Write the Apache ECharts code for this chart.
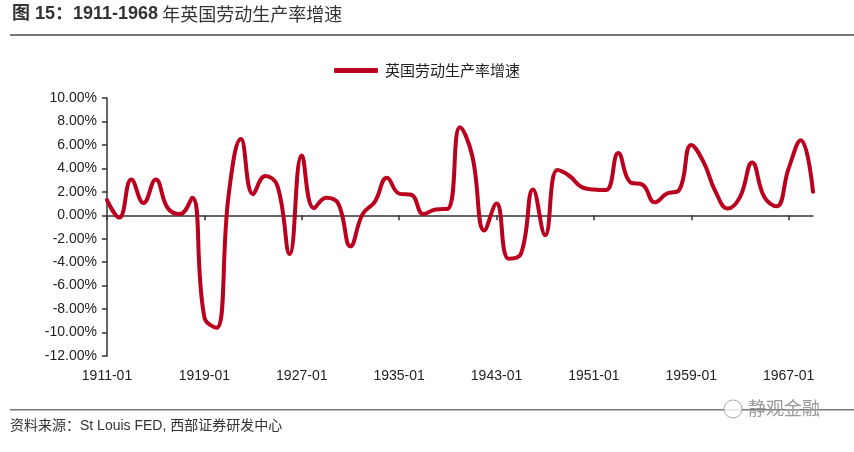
<!DOCTYPE html>
<html>
<head>
<meta charset="utf-8">
<script src="https://cdn.jsdelivr.net/npm/echarts@6/dist/echarts.min.js"></script>
<style>html,body{margin:0;padding:0;background:#fff;}#c{width:854px;height:452px;}</style>
</head>
<body>
<div id="c"></div>
<script>
// Data (annual labour productivity growth, %)
var years = [1911,1912,1913,1914,1915,1916,1917,1918,1919,1920,
             1921,1922,1923,1924,1925,1926,1927,1928,1929,1930,
             1931,1932,1933,1934,1935,1936,1937,1938,1939,1940,
             1941,1942,1943,1944,1945,1946,1947,1948,1949,1950,
             1951,1952,1953,1954,1955,1956,1957,1958,1959,1960,
             1961,1962,1963,1964,1965,1966,1967,1968,1969];
var growth = [1.3,-0.2,3.05,1.05,3.05,0.6,0.1,1.5,-8.7,-9.6,
              1.8,6.5,1.8,3.35,2.5,-3.3,5.1,0.6,1.5,1.0,
              -2.65,0.1,1.15,3.2,1.85,1.75,0.1,0.5,0.55,7.5,
              5.1,-1.3,1.0,-3.7,-3.3,2.2,-1.7,3.85,3.35,2.4,
              2.2,2.15,5.3,2.8,2.6,1.1,1.85,2.15,6.0,4.55,
              2.0,0.57,1.55,4.5,1.55,0.77,4.0,6.4,2.0];
var categories = years.map(function(y){ return y + '-01'; });
var seriesName = '英国劳动生产率增速';
var titleMain = '图 15：1911-1968';
var titleRest = ' 年英国劳动生产率增速';
var sourceText = '资料来源：St Louis FED, 西部证券研发中心';
var watermark = '静观金融';
var yMin = -12, yMax = 10, yStep = 2;

var chart = echarts.init(document.getElementById('c'));
var red = '#BA001E';
var axisColor = '#333';
var labelFont = '"Liberation Sans", Arial, sans-serif';
var cjk = '"Liberation Sans", "Noto Sans CJK SC", sans-serif';

chart.setOption({
  backgroundColor: '#fff',
  animation: false,
  legend: {
    data: [{ name: seriesName, icon: 'roundRect' }],
    left: 329, top: 58,
    itemWidth: 44, itemHeight: 5, itemGap: 10,
    textStyle: { fontFamily: '"Noto Sans CJK SC", sans-serif', fontSize: 15, color: '#222', padding: [0,0,0,2] }
  },
  grid: { left: 107, right: 41, top: 98, bottom: 96, containLabel: false },
  xAxis: [{
    type: 'category', data: categories, boundaryGap: false,
    axisLine: { onZero: true, lineStyle: { color: axisColor, width: 1.5 } },
    axisTick: { show: true, length: 5, inside: false, interval: function(i){ return i % 8 === 0; }, lineStyle: { color: axisColor, width: 1.5 } },
    axisLabel: { show: false },
    splitLine: { show: false }
  }, {
    type: 'category', data: categories, boundaryGap: false, position: 'bottom',
    axisLine: { show: false, onZero: false },
    axisTick: { show: false },
    axisLabel: { show: true, interval: function(i){ return i % 8 === 0; }, margin: 13, fontFamily: labelFont, fontSize: 14, color: '#222' },
    splitLine: { show: false }
  }],
  yAxis: {
    type: 'value', min: yMin, max: yMax, interval: yStep,
    axisLine: { show: true, lineStyle: { color: axisColor, width: 1.5 } },
    axisTick: { show: true, length: 5, inside: false, lineStyle: { color: axisColor, width: 1.5 } },
    axisLabel: { margin: 10, fontFamily: labelFont, fontSize: 14, color: '#222',
      formatter: function(v){ return v.toFixed(2) + '%'; } },
    splitLine: { show: false }
  },
  series: [{
    name: seriesName, type: 'line', xAxisIndex: 0, data: growth,
    smooth: 0.45, symbol: 'none', showSymbol: false,
    lineStyle: { color: red, width: 4, cap: 'round', join: 'round' }, itemStyle: { color: red }
  }],
  graphic: [
    { type: 'text', left: 12, top: 5, style: {
        text: '{a|' + titleMain + '}{b|' + titleRest + '}',
        rich: {
          a: { fontFamily: cjk, fontSize: 18, fontWeight: 'bold', fill: '#333' },
          b: { fontFamily: '"Noto Sans CJK SC", sans-serif', fontSize: 18, fill: '#333' }
        } } },
    { type: 'rect', shape: { x: 10, y: 34, width: 844, height: 2 }, style: { fill: '#777' } },
    { type: 'rect', shape: { x: 10, y: 409, width: 844, height: 1.5 }, style: { fill: '#777' } },
    { type: 'text', left: 10, top: 419, style: { text: sourceText, fontFamily: cjk, fontSize: 14, fill: '#333' } },
    { type: 'circle', shape: { cx: 733, cy: 409, r: 9 }, style: { fill: 'rgba(255,255,255,0.8)', stroke: '#aaa', lineWidth: 1 } },
    { type: 'text', left: 748, top: 399, style: { text: watermark, fontFamily: '"Noto Sans CJK SC", sans-serif', fontSize: 18, fill: '#999' } }
  ]
});
</script>
</body>
</html>
